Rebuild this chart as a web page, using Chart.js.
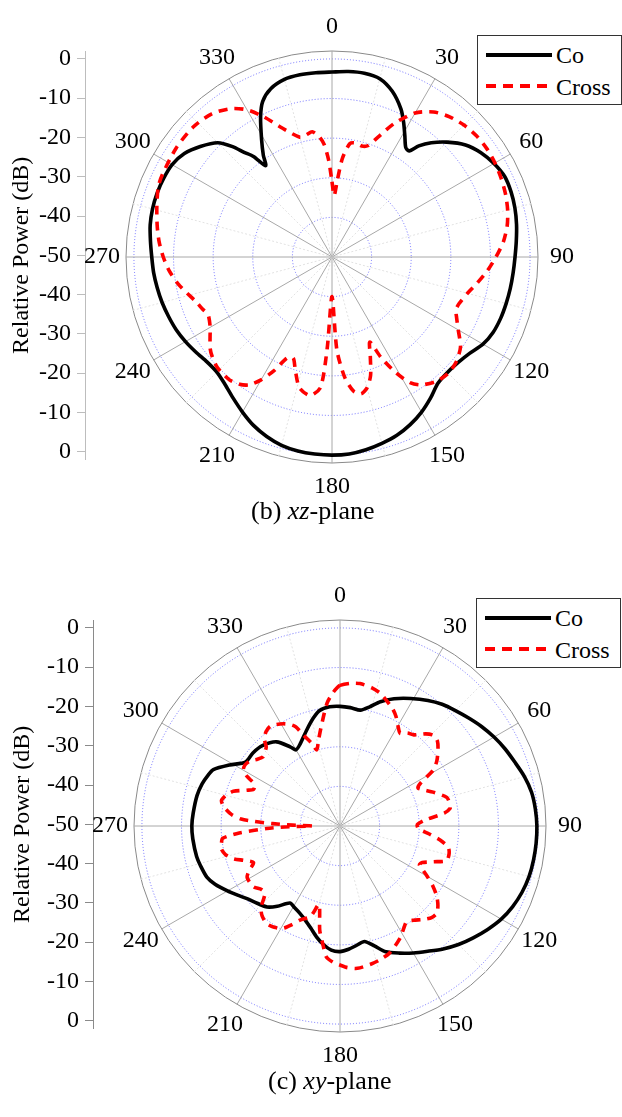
<!DOCTYPE html>
<html><head><meta charset="utf-8">
<script src="https://cdn.jsdelivr.net/npm/chart.js"></script>
<style>
html,body{margin:0;padding:0;background:#fff;}
body{width:622px;height:1117px;position:relative;overflow:hidden;font-family:'Liberation Serif','Times New Roman',serif;}
canvas{position:absolute;}
.legend{position:absolute;box-sizing:border-box;width:145px;height:70px;border:1.5px solid #333;background:#fff;z-index:5;}
.legend svg{position:absolute;left:8px;}
.legend .tx{position:absolute;left:78px;font-size:24px;line-height:24px;color:#000;white-space:nowrap;}
.caption{position:absolute;font-size:26px;line-height:30px;color:#000;white-space:nowrap;}
</style></head><body>
<canvas id="axTop" width="100" height="480" style="left:0;top:0"></canvas>
<canvas id="rTop" width="496" height="496" style="left:81px;top:9px"></canvas>
<div class="legend" style="left:477px;top:35px">
  <svg width="66" height="8" style="top:14.5px"><line x1="0" y1="4" x2="66" y2="4" stroke="#000" stroke-width="4"/></svg>
  <span class="tx" style="top:6.5px">Co</span>
  <svg width="66" height="8" style="top:45.5px"><line x1="0" y1="4" x2="66" y2="4" stroke="#ff0000" stroke-width="4" stroke-dasharray="10,7"/></svg>
  <span class="tx" style="top:38.5px">Cross</span>
</div>
<div class="caption" style="left:251px;top:496px">(b) <i>xz</i>-plane</div>

<canvas id="axBot" width="108" height="480" style="left:0;top:569px"></canvas>
<canvas id="rBot" width="496" height="496" style="left:89px;top:578px"></canvas>
<div class="legend" style="left:476px;top:598px">
  <svg width="66" height="8" style="top:14.5px"><line x1="0" y1="4" x2="66" y2="4" stroke="#000" stroke-width="4"/></svg>
  <span class="tx" style="top:6.5px">Co</span>
  <svg width="66" height="8" style="top:45.5px"><line x1="0" y1="4" x2="66" y2="4" stroke="#ff0000" stroke-width="4" stroke-dasharray="10,7"/></svg>
  <span class="tx" style="top:38.5px">Cross</span>
</div>
<div class="caption" style="left:268px;top:1066px">(c) <i>xy</i>-plane</div>
<script>
// ---------- data (dB, angle in degrees) ----------
const ringValues = [-50, -40, -30, -20, -10, 0];
const frameValue = 2;
const axisTickValues = [-50, -40, -30, -20, -10, 0, 10, 20, 30, 40, 50];
const angleLabelStep = 30;
const seriesNames = ['Co', 'Cross'];

const xzCoAngles = [0,5,10,15,20,25,28,31,34,36,38,41,45,50,55,60,65,70,75,80,85,90,95,100,105,110,115,120,125,130,135,140,145,150,155,160,165,170,175,180,185,190,195,200,205,210,215,220,225,230,235,240,245,250,255,260,265,270,275,280,285,290,295,300,305,310,315,318,320,322,324,326,329,333,336,340,345,350,355];
const xzCoValues = [-3.3,-3.0,-2.9,-3.4,-5.5,-8.8,-11.5,-14.3,-16.7,-16.9,-14.4,-11.8,-9.0,-6.0,-4.1,-2.8,-1.9,-1.9,-2.2,-2.7,-3.3,-3.8,-4.1,-4.3,-4.5,-4.7,-5.1,-6.0,-7.6,-8.5,-8.8,-8.4,-6.6,-4.8,-3.3,-2.1,-1.3,-0.6,-0.1,0,-0.1,-0.3,-0.8,-1.8,-3.1,-4.8,-6.5,-8.0,-8.9,-8.8,-8.1,-7.3,-6.6,-6.1,-5.6,-5.2,-4.8,-4.5,-4.0,-3.4,-3.1,-3.0,-3.1,-3.4,-4.5,-6.6,-9.2,-12.5,-15.5,-17.8,-21.5,-19.0,-15.5,-10.3,-7.0,-4.8,-3.6,-3.3,-3.3];

const xzCrossAngles = [0,2,4,6,9,12,15,18,21,25,30,35,40,45,50,55,60,65,70,75,80,85,90,95,100,105,110,113,116,120,125,130,135,140,145,148,151,154,156,159,162,165,168,171,174,177,180,183,185,189,194,198,201,204,207,210,213,216,220,226,230,233,237,240,245,248,252,256,260,265,270,275,280,286,292,296,305,313,320,326,330,334,339,345,348,351,354,356,358];
const xzCrossValues = [-31,-34.5,-30.5,-25,-21,-20.6,-21,-20.4,-17.6,-12.8,-8.0,-5.3,-3.8,-2.9,-2.4,-2.3,-2.5,-2.9,-3.4,-4.1,-5.1,-6.6,-8.6,-10.6,-12.7,-14.6,-15.8,-16.0,-15.0,-13.2,-10.4,-9.0,-8.5,-9.0,-10.6,-12.5,-16.5,-21.8,-26.5,-23.0,-18.5,-15.8,-14.7,-15.8,-19.5,-26.5,-40,-27,-17,-14.6,-16,-20,-22.7,-22.1,-17.8,-14.2,-11.5,-10.3,-9.6,-9.8,-10.6,-11.5,-13.3,-14.5,-15.5,-14.8,-13.8,-12.3,-10.6,-8.8,-7.4,-6.2,-5.2,-4.0,-2.7,-2.4,-2.0,-2.0,-2.8,-4.8,-7.1,-10.6,-15.2,-18.7,-18.5,-18.0,-19.5,-21.5,-25.5];

const xyCoAngles = [0,5,10,14,18,23,29,35,40,45,50,55,60,65,70,75,80,85,90,95,100,105,110,115,120,125,130,135,140,145,150,155,160,164,168,172,176,180,184,188,192,196,200,205,209,213,218,222,227,232,236,240,245,249,254,258,265,270,275,282,287,291,294,299,304,310,316,323,328,330,334,341,346,350,355];
const xyCoValues = [-19.8,-20.0,-20.3,-19.0,-17.0,-15.1,-13.2,-11.3,-9.9,-8.8,-7.6,-6.3,-5.1,-4.0,-3.0,-1.8,-0.9,-0.5,-0.3,-0.3,-0.4,-0.6,-1.1,-1.9,-3.0,-4.5,-6.1,-7.7,-9.5,-11.4,-13.0,-14.6,-16.2,-18.5,-20.2,-19.6,-18.8,-18.3,-18.6,-19.8,-21.4,-23.2,-24.6,-25.8,-26.4,-26.8,-24.3,-22.5,-21.4,-20.2,-18.8,-17.2,-15.2,-14.0,-13.4,-13.0,-12.7,-12.6,-12.8,-13.1,-13.6,-14.3,-15.0,-18.2,-21.2,-21.3,-21.8,-23.4,-26.5,-27.8,-27.0,-24.3,-22.0,-20.4,-19.8];

const xyCrossAngles = [0,4,8,13,17,20,24,27,31,33,36,39,43,46,49,52,56,59,62,64,67,70,75,79,81,83,86,89,92,95,98,101,104,108,111,114,116,118,120,123,126,129,132,135,138,142,145,148,151,155,159,163,167,173,177,180,183,186,188,191,195,198,203,206,209,213,217,221,224,228,231,235,241,244,247,250,253,256,259,262,264,266,268,269,270,271,272,273,274,276,279,282,285,288,291,293,296,298,300,303,306,309,312,315,317,319,322,325,328,331,334,336,338,341,343,346,350,354,357,359];
const xyCrossValues = [-14.5,-13.9,-13.7,-14.2,-15.0,-16.1,-17.5,-18.9,-21.3,-22.1,-21.0,-20.4,-18.2,-17.1,-17.4,-18.6,-20.5,-22.5,-27.0,-28.1,-26.8,-25.0,-22.1,-21.7,-21.9,-23.5,-28.5,-30.5,-30.2,-27.5,-24.5,-22.2,-21.6,-21.7,-24.8,-27.3,-27.7,-26.3,-24.6,-22.0,-19.8,-18.2,-17.1,-17.3,-18.3,-19.8,-20.6,-19.6,-18.2,-16.8,-15.5,-14.8,-14.3,-13.8,-14.2,-14.9,-15.6,-16.8,-19.5,-23.2,-29.5,-26.0,-24.2,-22.3,-20.5,-19.5,-19.2,-20.0,-21.3,-24.5,-24.5,-23.3,-23.2,-24.5,-26.3,-24.5,-21.8,-20.2,-19.5,-19.8,-20.2,-24.5,-31.5,-36,-43,-38,-33,-28.5,-25,-22.5,-20.5,-19.4,-20.2,-21.7,-24.8,-26.3,-26.0,-23.5,-21.8,-21.5,-22.0,-23.2,-23.9,-23.3,-22.7,-20.9,-19.7,-19.3,-19.8,-20.5,-21.5,-22.6,-25.2,-27.8,-29.9,-27.6,-23.7,-18.8,-16.3,-15.0];

// ---------- helpers ----------
const FONT = "'Liberation Serif','Times New Roman',serif";
const degrees = Array.from({length: 360}, (_, i) => i);
function toSeries(angles, values) {
  const d = new Array(360).fill(null);
  angles.forEach((a, k) => { d[a] = values[k]; });
  return d;
}
const LABEL_GAP = 24; // label centre distance beyond the outer ring (px)
function labelGeom(i) {
  if (i % angleLabelStep !== 0) return {p: 0, h: 24};
  const hw = String(i).length * 6;
  const th = i * Math.PI / 180;
  const s = Math.abs(Math.sin(th)), c = Math.abs(Math.cos(th));
  if (s < 1e-6) return {p: LABEL_GAP - 12, h: 24};
  if (c < 1e-6) return {p: LABEL_GAP - hw, h: 24};
  return {p: LABEL_GAP - hw / s, h: 2 * hw * c / s};
}

function radarChart(id, coAngles, coValues, crAngles, crValues) {
  return new Chart(document.getElementById(id), {
    type: 'radar',
    data: {
      labels: degrees,
      datasets: [
        {label: seriesNames[0], data: toSeries(coAngles, coValues), borderColor: '#000', borderWidth: 3.6,
         backgroundColor: 'rgba(0,0,0,0)', fill: false, spanGaps: true, order: 1, borderJoinStyle: 'round'},
        {label: seriesNames[1], data: toSeries(crAngles, crValues), borderColor: '#ff0000', borderWidth: 3.6,
         borderDash: [9, 7], backgroundColor: 'rgba(0,0,0,0)', fill: false, spanGaps: true, order: 0}
      ]
    },
    options: {
      responsive: false, animation: false, events: [],
      plugins: {legend: {display: false}, tooltip: {enabled: false}},
      elements: {point: {radius: 0, hoverRadius: 0, hitRadius: 0}, line: {tension: 0.25}},
      layout: {padding: 0},
      scales: {
        r: {
          min: -50, max: frameValue,
          afterBuildTicks: s => { s.ticks = ringValues.concat([frameValue]).map(v => ({value: v})); },
          ticks: {display: false},
          grid: {circular: true, lineWidth: 1,
                 color: c => (c.tick && c.tick.value === frameValue) ? '#8a8a8a' : 'rgba(80,80,255,0.8)'},
          border: {dash: c => (c.tick && c.tick.value === frameValue) ? [] : [1, 2]},
          angleLines: {
            color: c => c.index % 30 === 0 ? '#a8a8a8' : (c.index % 15 === 0 ? '#e2e2e2' : 'rgba(0,0,0,0)'),
            lineWidth: c => c.index % 15 === 0 ? 1 : 0,
            borderDash: c => c.index % 30 === 0 ? [] : [2, 2]
          },
          pointLabels: {
            display: true,
            color: '#000',
            callback: (lab, i) => (i % angleLabelStep === 0 ? String(lab) : ''),
            font: c => ({family: FONT, size: 24, lineHeight: labelGeom(c.index).h / 24}),
            padding: c => labelGeom(c.index).p
          }
        }
      }
    }
  });
}

function axisChart(id, axisWidth, titlePad, axisColor) {
  return new Chart(document.getElementById(id), {
    type: 'line',
    data: {labels: [], datasets: []},
    options: {
      responsive: false, animation: false, events: [],
      plugins: {legend: {display: false}, tooltip: {enabled: false}},
      layout: {padding: {top: 51, bottom: 17, left: 0, right: 0}},
      scales: {
        x: {display: false},
        y: {
          min: -52, max: 52,
          afterBuildTicks: s => { s.ticks = axisTickValues.map(v => ({value: v})); },
          afterFit: s => { s.width = axisWidth; },
          ticks: {callback: v => String(Math.abs(v) - 50), font: {family: FONT, size: 24}, color: '#000', padding: 6, autoSkip: false},
          grid: {drawOnChartArea: false, drawTicks: true, tickLength: 8, color: axisColor, lineWidth: 1},
          border: {display: true, color: axisColor, width: 1},
          title: {display: true, text: 'Relative Power (dB)', color: '#000',
                  font: {family: FONT, size: 24, lineHeight: 1}, padding: {top: titlePad, bottom: 0}}
        }
      }
    }
  });
}

axisChart('axTop', 85, 10, '#bdbdbd');
axisChart('axBot', 93, 11, '#8a8a8a');
radarChart('rTop', xzCoAngles, xzCoValues, xzCrossAngles, xzCrossValues);
radarChart('rBot', xyCoAngles, xyCoValues, xyCrossAngles, xyCrossValues);
</script>
</body></html>
